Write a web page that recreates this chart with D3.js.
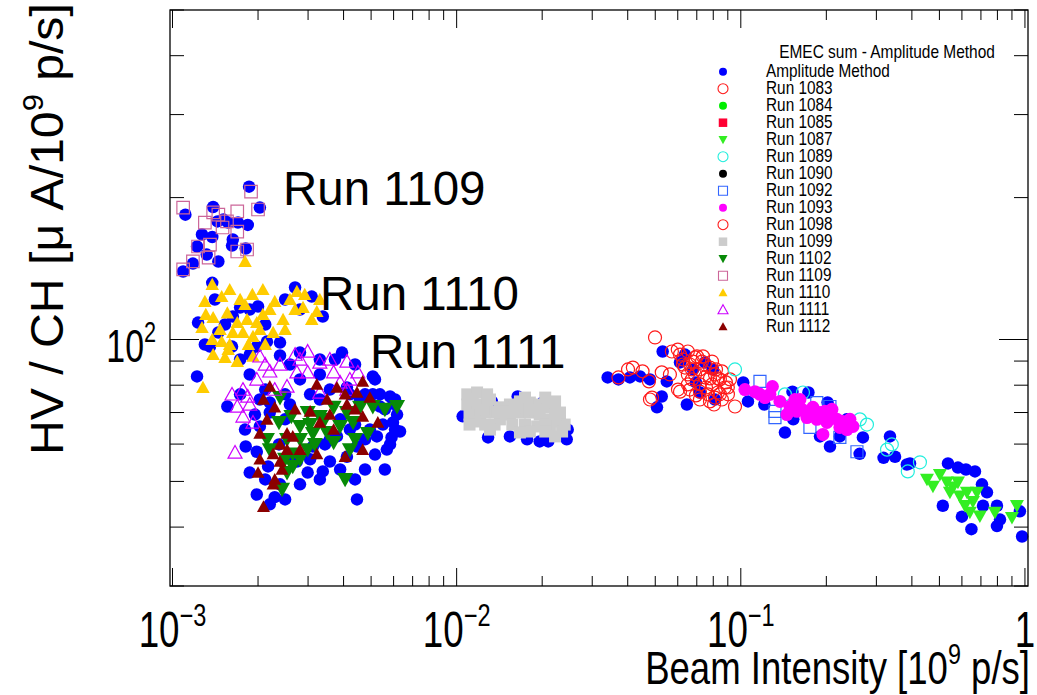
<!DOCTYPE html>
<html><head><meta charset="utf-8">
<script src="https://cdn.jsdelivr.net/npm/d3@7"></script>
<style>body{margin:0;background:#fff;} svg{display:block;}</style>
</head><body>
<svg id="chart" width="1037" height="695"></svg>
<script>
// ---------------- data ----------------
const xDomain = [0.00098, 1.025];
const yDomain = [30, 500];
const xMajorTicks = [1e-3, 1e-2, 1e-1, 1];
const xTickLabels = [["10","−3"],["10","−2"],["10","−1"],["1",""]];
const yMajorTicks = [100];
const yTickLabels = [["10","2"]];
const yMinorTicks = [30,40,50,60,70,80,90,200,300,400,500];
const legendHeader = "EMEC sum - Amplitude Method";
const legendLabels = ["Amplitude Method","Run 1083","Run 1084","Run 1085","Run 1087","Run 1089","Run 1090","Run 1092","Run 1093","Run 1098","Run 1099","Run 1102","Run 1109","Run 1110","Run 1111","Run 1112"];
const annotations = ["Run 1109","Run 1110","Run 1111"];

const amplitudeMethod = [
 [1.86e-3,211],[1.11e-3,184],[1.39e-3,191],[1.57e-3,177],[1.70e-3,177],[1.84e-3,175],[2.03e-3,190.5],[1.27e-3,167],[1.38e-3,165],[1.63e-3,163],[1.22e-3,157.5],[1.32e-3,151.4],[1.45e-3,146.4],[1.18e-3,144.9],[1.09e-3,139.4],[1.81e-3,156],[1.62e-3,158.2],[1.51e-3,179.6],[1.44e-3,178],
 [1.38e-3,131.9],[1.23e-3,108.6],[1.73e-3,116.9],[2.00e-3,117.5],[2.70e-3,128.9],[3.09e-3,123.3],[3.38e-3,111.9],[2.39e-3,98.5],[1.63e-3,111.9],[1.45e-3,103.5],[1.62e-3,96.6],[1.73e-3,90.7],[1.22e-3,83.5],[2.15e-3,99.0],[1.98e-3,96.6],[1.355e-3,96.6],
 [1.41e-3,121.6],[1.53e-3,107.6],[1.87e-3,115.8],[2.12e-3,107.6],[1.30e-3,97.6],[1.87e-3,92.9],[2.49e-3,121.6],[2.81e-3,115.8],
 [2.81e-3,93.8],[3.95e-3,93.8],[5.16e-3,82.3],[2.03e-3,74.6],[2.20e-3,73.5],[1.56e-3,72.1],[2.39e-3,92.5],[2.59e-3,88.5],[3.30e-3,90.7],[4.39e-3,88.5],
 [3.30e-3,84.3],[3.73e-3,90.7],[4.76e-3,76.5],[1.87e-3,84.3],[1.73e-3,76.5],
 [1.87e-3,52.2],[1.98e-3,46.9],[2.29e-3,46.3],[2.81e-3,49.3],[3.38e-3,52.5],[4.46e-3,45.8],[5.68e-3,58.4],[5.97e-3,66.7],[5.37e-3,72.1],[5.83e-3,75.7],[5.07e-3,76.5],[4.57e-3,74.6],[4.46e-3,59.3],[3.79e-3,62.3],[3.12e-3,59.3],[2.37e-3,59.9],[2.74e-3,55.1],[2.99e-3,52.2],[1.81e-3,59.3],[1.98e-3,57.8],[2.03e-3,65.4],[2.20e-3,70.0],[4.11e-3,56.4],[5.24e-3,62.3],[6.17e-3,69.3],[5.07e-3,83.5],[4.11e-3,79.1],[3.58e-3,78.3],[6.32e-3,63.8],[5.59e-3,53.0],[4.76e-3,53.0],[2.39e-3,49.3],[2.17e-3,53.8],[3.89e-3,67.7],[3.30e-3,74.6],[2.59e-3,72.8],[2.81e-3,82.3],[3.58e-3,61.4],[4.39e-3,66.0],[5.9e-3,62.0],[5.5e-3,66.0],[6.0e-3,73.0],
 [2.12e-3,78.3],[2.49e-3,76.5],[3.05e-3,76.5],[4.21e-3,76.5],[5.59e-3,71.1],[6.07e-3,64.4],[5.83e-3,59.9],[5.16e-3,57.0],[4.76e-3,61.4],[4.21e-3,64.4],[3.44e-3,59.9],[3.05e-3,55.7],[3.58e-3,55.1],[2.59e-3,57.0],[2.12e-3,50.5],[2.49e-3,45.8],[2.20e-3,44.7],[3.89e-3,53.0],[4.39e-3,50.5],[3.30e-3,50.5],[1.80e-3,64.4],[1.95e-3,69.3],[2.49e-3,67.7],[6.07e-3,74.6],[5.37e-3,76.5],[4.95e-3,64.4],
 [1.29e-2,62.0],[1.54e-2,62.3],[1.77e-2,61.4],[1.96e-2,60.8],[2.10e-2,60.8],[2.44e-2,61.4],[2.46e-2,64.4],[2.01e-2,73.5],[1.64e-2,75.7],[1.33e-2,73.9],[1.05e-2,68.7],
 [3.71e-2,82.3],[4.07e-2,83.1],[5.31e-2,94.3],[6.36e-2,92.9],[7.48e-2,89.4],[5.49e-2,81.5],[5.27e-2,75.7],[5.07e-2,71.8],[6.46e-2,72.8],[7.18e-2,77.2],[8.11e-2,74.6],[0.102,81.1],[7.98e-2,86.4],[6.79e-2,86.4],[6.11e-2,89.4],[4.42e-2,83.5],[4.79e-2,82.3],[3.40e-2,83.1],[6.95e-2,81.1],
 [0.106,73.9],[0.121,72.8],[0.143,63.5],[0.153,67.7],[0.152,77.5],[0.173,77.2],[0.202,73.5],[0.236,67.7],[0.269,62.0],[0.262,57.2],[0.206,59.3],[0.190,62.3],[0.223,62.3],[0.335,62.3],[0.349,56.4],[0.318,56.1],[0.394,54.6],
 [0.536,54.6],[0.581,53.5],[0.620,53.0],[0.667,52.5],[0.514,44.4],[0.706,49.3],[0.735,47.4],[0.600,42.1],[0.648,39.6],[0.797,40.2],[0.817,41.5],[0.960,43.2],[0.977,38.2],[0.712,44.4],[0.797,44.4],[0.384,54.3]
];
const run1083 = [
 [4.99e-2,101.0],[5.72e-2,94.3],[5.27e-2,85.2],[6.01e-2,78.3],[7.01e-2,92.1],[6.11e-2,92.9],[6.51e-2,94.3],[6.90e-2,91.6],[7.30e-2,89.8],[6.62e-2,88.5],[7.18e-2,86.4],[7.79e-2,87.2],[8.11e-2,84.3],[7.48e-2,83.1],[6.90e-2,84.3],[6.36e-2,87.2],[8.44e-2,82.3],[8.79e-2,79.1],[7.92e-2,80.3],[7.18e-2,80.3],[8.31e-2,77.2],[9.01e-2,76.5],[7.66e-2,76.5],[6.73e-2,82.3],[9.16e-2,82.3],[8.58e-2,74.6],[7.79e-2,73.9],[9.54e-2,72.1],[6.11e-2,77.5],[5.63e-2,84.3],
 [6.26e-2,90.7],[6.79e-2,89.8],[7.48e-2,88.5],[8.18e-2,86.4],[8.58e-2,85.6],[6.51e-2,84.3],[7.79e-2,82.7],[7.18e-2,77.5],[8.11e-2,75.3],[9.0e-2,79.1],[6.62e-2,78.3],[6.00e-2,95.2],
 [6.26e-2,88.5],[6.73e-2,86.4],[7.36e-2,92.1],[7.92e-2,89.8],[8.31e-2,82.7],[7.54e-2,79.1],[6.95e-2,76.1],[8.44e-2,76.5],[8.86e-2,81.1],[6.51e-2,80.3],[8.05e-2,72.8],[7.18e-2,74.6]
];
const run1084 = [];
const run1085 = [];
const run1087 = [
 [0.452,50.5],[0.502,51.7],[0.4745,48.8],[0.531,49.8],[0.558,48.6],[0.581,49.8],[0.5445,47.4],[0.590,46.5],[0.625,47.4],[0.6775,47.4],[0.615,44.4],[0.640,43.0],[0.694,42.2],[0.784,43.0],[0.900,41.9],[0.937,44.4],[0.656,45.3]
];
const run1089 = [
 [9.54e-2,86.4],[0.143,76.5],[0.1655,77.2],[0.2625,67.7],[0.278,66.0],[0.340,59.9],[0.387,52.5],[0.427,54.9],[0.327,58.4]
];
const run1090 = [];
const run1092 = [
 [0.1168,81.5],[0.1319,68.3],[0.1751,65.1],[0.2059,72.1],[0.2563,57.8],[0.2232,62.0],[0.1851,73.5],[0.1319,70.4]
];
const run1093 = [
 [0.1034,78.3],[0.1168,76.5],[0.1292,79.5],[0.1373,73.9],[0.1489,72.1],[0.1641,71.1],[0.1453,69.3],[0.1794,71.8],[0.1898,70.0],[0.2093,71.1],[0.2180,67.7],[0.2010,66.7],[0.2364,64.4],[0.2481,65.4],[0.1852,67.7],[0.1945,62.9],[0.1709,68.3],[0.2288,67.0],[0.1216,75.3],[0.155,74.6],[0.206,68.3],
 [0.1615,74.6],[0.1780,69.3],[0.1977,70.4],[0.2232,65.1],[0.2421,67.7],[0.1576,70.4],[0.1266,76.5],[0.1121,77.5]
];
const run1098 = [
 [3.71e-2,83.1],[4.01e-2,86.4],[4.17e-2,87.2],[4.51e-2,85.6],[4.75e-2,81.5],[4.87e-2,75.3],[4.79e-2,74.6]
];
const run1099 = [
 [1.09e-2,76.5],[1.18e-2,77.2],[1.28e-2,76.5],[1.09e-2,72.8],[1.18e-2,72.8],[1.28e-2,72.8],[1.11e-2,69.3],[1.21e-2,69.3],[1.31e-2,70.0],[1.26e-2,66.0],[1.16e-2,67.0],[1.42e-2,71.8],[1.54e-2,72.8],[1.67e-2,73.9],[1.81e-2,73.5],[1.96e-2,72.8],[2.13e-2,71.8],[2.31e-2,70.0],[1.54e-2,69.3],[1.67e-2,70.0],[1.81e-2,70.0],[1.96e-2,69.3],[2.13e-2,67.7],[2.31e-2,67.0],[1.57e-2,66.0],[1.74e-2,66.0],[1.92e-2,65.4],[2.13e-2,64.4],[2.35e-2,63.8],[1.81e-2,63.8],[1.67e-2,63.5],[1.42e-2,67.7],[1.36e-2,66.0],[2.40e-2,66.0],[2.05e-2,66.0],[1.39e-2,70.4],[2.05e-2,75.3],[2.22e-2,73.9],[1.74e-2,75.3],
 [1.14e-2,74.6],[1.24e-2,71.1],[1.31e-2,74.6],[1.48e-2,70.4],[1.60e-2,71.8],[1.89e-2,71.1],[2.22e-2,69.3],[2.05e-2,63.8],[2.22e-2,62.3],[1.11e-2,66.0],[1.31e-2,64.4]
];
const run1102 = [
 [2.39e-3,75.3],[2.62e-3,68.7],[2.99e-3,70.0],[2.37e-3,66.7],[2.81e-3,65.4],[3.30e-3,68.7],[3.69e-3,71.8],[4.11e-3,70.0],[4.57e-3,71.8],[5.07e-3,72.1],[6.17e-3,72.1],[2.15e-3,61.4],[2.53e-3,61.4],[2.81e-3,61.4],[3.12e-3,63.2],[3.50e-3,63.5],[3.89e-3,65.4],[4.32e-3,66.7],[4.87e-3,63.2],[2.65e-3,57.2],[2.99e-3,58.4],[3.69e-3,60.5],[4.21e-3,58.4],[2.20e-3,58.4],[2.65e-3,53.8],[2.53e-3,52.2],[2.81e-3,55.7],[4.05e-3,50.5],[2.43e-3,48.1],
 [3.05e-3,66.0],[3.44e-3,67.7],[2.49e-3,55.7],[3.17e-3,59.9],[4.39e-3,61.4],[5.59e-3,71.1]
];
const run1109 = [
 [1.09e-3,190.5],[1.89e-3,206],[1.39e-3,186],[1.30e-3,177],[1.69e-3,187],[2.00e-3,188.7],[1.555e-3,178],[1.69e-3,169.4],[1.23e-3,157.5],[1.355e-3,159],[1.69e-3,153.7],[1.83e-3,155.2],[1.18e-3,146.4],[1.34e-3,149.2],[1.09e-3,140.8],[1.50e-3,172.8],[1.45e-3,184]
];
const run1110 = [
 [1.38e-3,130.8],[1.49e-3,123.3],[1.30e-3,120.4],[1.91e-3,124.6],[2.08e-3,127.6],[2.29e-3,120.4],[2.74e-3,126.4],[2.88e-3,116.9],[3.22e-3,114.6],[1.39e-3,111.3],[1.56e-3,113.8],[1.27e-3,106.0],[1.69e-3,108.6],[1.83e-3,110.3],[1.98e-3,108.6],[2.08e-3,113.0],[2.26e-3,103.5],[1.38e-3,100.0],[1.49e-3,99.0],[1.63e-3,103.5],[1.77e-3,103.5],[1.92e-3,101.5],[1.39e-3,92.9],[1.53e-3,91.6],[1.69e-3,89.8],[1.92e-3,92.1],[1.28e-3,79.1],[1.80e-3,146.4],[2.45e-3,110.3],[3.09e-3,110.3],[1.59e-3,97.6],[1.85e-3,97.6],[2.03e-3,105.0],[2.59e-3,121.6],[2.92e-3,124.6],[1.73e-3,121.6],[1.47e-3,105.0],
 [1.59e-3,127.6],[1.80e-3,118.6],[2.20e-3,115.8],[2.49e-3,105.0],[1.31e-3,113.0],[1.57e-3,95.2],[2.12e-3,97.6],[2.70e-3,115.8],[3.30e-3,121.6]
];
const run1111 = [
 [2.99e-3,94.3],[2.03e-3,92.1],[2.81e-3,90.7],[3.30e-3,89.4],[4.11e-3,89.8],[2.99e-3,85.2],[3.69e-3,85.2],[2.53e-3,79.5],[1.77e-3,78.3],[1.98e-3,82.3],[1.69e-3,72.1],[1.84e-3,75.7],[1.77e-3,68.7],[1.92e-3,66.7],[3.30e-3,77.2],[3.89e-3,81.1],[4.49e-3,85.2],[1.66e-3,57.6],[4.11e-3,78.3],[2.74e-3,85.2],[2.20e-3,85.6],[2.39e-3,88.5],[1.62e-3,76.5],
 [2.12e-3,88.5],[2.70e-3,92.9],[3.58e-3,90.7],[4.21e-3,82.3],[1.87e-3,72.8],[2.29e-3,78.3]
];
const run1112 = [
 [2.20e-3,79.5],[3.22e-3,80.3],[3.79e-3,79.1],[4.67e-3,81.5],[2.09e-3,74.6],[2.29e-3,71.8],[3.50e-3,74.6],[4.11e-3,72.8],[4.46e-3,77.2],[4.95e-3,75.3],[5.28e-3,66.7],[2.15e-3,67.7],[2.53e-3,63.2],[2.03e-3,63.2],[3.05e-3,70.4],[3.69e-3,64.4],[4.67e-3,68.7],[2.03e-3,55.7],[2.26e-3,57.2],[2.53e-3,58.4],[2.39e-3,55.1],[3.22e-3,57.2],[4.05e-3,56.4],[4.67e-3,58.4],[2.00e-3,52.2],[2.29e-3,50.5],[2.26e-3,49.3],[2.43e-3,53.0],[2.09e-3,44.2],[2.65e-3,62.3],[3.30e-3,66.7],[4.39e-3,71.1],
 [2.70e-3,71.1],[4.05e-3,76.5],[2.81e-3,58.4],[3.58e-3,69.3],[2.39e-3,59.9]
];

// -------- styles (not data) --------
const FONT = "'Liberation Sans', Arial, Helvetica, sans-serif";
const seriesDefs = [
 {label:"Amplitude Method", data:amplitudeMethod, shape:"circle", fill:"#0000ff", stroke:null, size:12.5, lsize:8},
 {label:"Run 1083", data:run1083, shape:"circle", fill:"none", stroke:"#ff1a1a", size:13, lsize:10},
 {label:"Run 1084", data:run1084, shape:"circle", fill:"#00ee00", stroke:null, size:12, lsize:8},
 {label:"Run 1085", data:run1085, shape:"square", fill:"#ff0033", stroke:null, size:11, lsize:8.5},
 {label:"Run 1087", data:run1087, shape:"triDown", fill:"#33ee22", stroke:null, size:14, lsize:9},
 {label:"Run 1089", data:run1089, shape:"circle", fill:"none", stroke:"#22eedd", size:13, lsize:10},
 {label:"Run 1090", data:run1090, shape:"circle", fill:"#000000", stroke:null, size:12, lsize:8},
 {label:"Run 1092", data:run1092, shape:"square", fill:"none", stroke:"#3366ff", size:12, lsize:9},
 {label:"Run 1093", data:run1093, shape:"circle", fill:"#ff00ff", stroke:null, size:13, lsize:8},
 {label:"Run 1098", data:run1098, shape:"circle", fill:"none", stroke:"#ff1a1a", size:13, lsize:10},
 {label:"Run 1099", data:run1099, shape:"square", fill:"#cccccc", stroke:null, size:12, lsize:8.5},
 {label:"Run 1102", data:run1102, shape:"triDown", fill:"#078a07", stroke:null, size:16, lsize:9},
 {label:"Run 1109", data:run1109, shape:"square", fill:"none", stroke:"#cc6699", size:12.5, lsize:9},
 {label:"Run 1110", data:run1110, shape:"triUp", fill:"#ffcc00", stroke:null, size:13.5, lsize:9},
 {label:"Run 1111", data:run1111, shape:"triUp", fill:"none", stroke:"#cc00ff", size:14, lsize:10},
 {label:"Run 1112", data:run1112, shape:"triUp", fill:"#8b0000", stroke:null, size:13, lsize:9}
];

function markerPath(shape, s){
  const h = s/2;
  if (shape === "circle") return d3.symbol(d3.symbolCircle, Math.PI*h*h)();
  if (shape === "square") return `M${-h},${-h}h${s}v${s}h${-s}Z`;
  const th = s*0.9;
  if (shape === "triUp") return `M0,${-th*0.55}L${h},${th*0.45}L${-h},${th*0.45}Z`;
  if (shape === "triDown") return `M0,${th*0.55}L${h},${-th*0.45}L${-h},${-th*0.45}Z`;
}

const svg = d3.select("#chart");
svg.append("rect").attr("width",1037).attr("height",695).attr("fill","#fff");
const x = d3.scaleLog().domain(xDomain).range([170, 1028]);
const y = d3.scaleLog().domain(yDomain).range([586, 10]);
const X0 = x(xDomain[0]), X1 = x(xDomain[1]), Y0 = y(yDomain[0]), Y1 = y(yDomain[1]);

// points
const plot = svg.append("g");
seriesDefs.forEach(s => {
  plot.append("g").selectAll("path").data(s.data).join("path")
    .attr("transform", d => `translate(${x(d[0])},${y(d[1])})`)
    .attr("d", markerPath(s.shape, s.size))
    .attr("fill", s.fill)
    .attr("stroke", s.stroke || "none")
    .attr("stroke-width", s.stroke ? 1.2 : 0);
});

// frame and ticks
const axes = svg.append("g").attr("stroke","#000").attr("fill","none");
axes.append("rect").attr("x",X0).attr("y",Y1).attr("width",X1-X0).attr("height",Y0-Y1).attr("stroke-width",1.3);
const xTicksAll = [];
for (let d = -3; d <= 0; d++) for (let k = 1; k <= 9; k++) { const v = k*Math.pow(10,d); if (v >= xDomain[0] && v <= xDomain[1]) xTicksAll.push({v, major:k===1}); }
xTicksAll.forEach(t => {
  const len = t.major ? 18 : 10;
  axes.append("line").attr("x1",x(t.v)).attr("x2",x(t.v)).attr("y1",Y0).attr("y2",Y0-len).attr("stroke-width",1);
  axes.append("line").attr("x1",x(t.v)).attr("x2",x(t.v)).attr("y1",Y1).attr("y2",Y1+len).attr("stroke-width",1);
});
const yTicksAll = yMinorTicks.map(v=>({v,major:false})).concat(yMajorTicks.map(v=>({v,major:true})));
yTicksAll.forEach(t => {
  const len = t.major ? 29 : 14;
  axes.append("line").attr("x1",X0).attr("x2",X0+len).attr("y1",y(t.v)).attr("y2",y(t.v)).attr("stroke-width",1);
  axes.append("line").attr("x1",X1).attr("x2",X1-len).attr("y1",y(t.v)).attr("y2",y(t.v)).attr("stroke-width",1);
});

// text helper: parts = [[text, isSup], ...]
function rootText(parent, o){
  const outer = parent.append("g").attr("transform", `translate(${o.x},${o.y})` + (o.rotate ? ` rotate(${o.rotate})` : ""));
  const inner = outer.append("g");
  const t = inner.append("text").attr("text-anchor", o.anchor || "start")
    .attr("font-family", FONT).attr("font-size", o.size).attr("fill", "#000");
  let sup = false;
  o.parts.forEach(([txt, isSup]) => {
    if (!txt) return;
    const ts = t.append("tspan").text(txt);
    if (isSup && !sup) { ts.attr("dy", -o.size*0.42).attr("font-size", o.size*0.64); sup = true; }
    else if (isSup) { ts.attr("font-size", o.size*0.64); }
    else if (!isSup && sup) { ts.attr("dy", o.size*0.42); sup = false; }
  });
  if (o.width) { const w = t.node().getBBox().width; inner.attr("transform", `scale(${o.width/w},1)`); }
  else if (o.sx) inner.attr("transform", `scale(${o.sx},1)`);
  return outer;
}

// tick labels
xMajorTicks.forEach((v,i) => rootText(svg, {x:x(v), y:647, anchor:"middle", size:49, sx:0.75, parts:[[xTickLabels[i][0],false],[xTickLabels[i][1],true]]}));
yMajorTicks.forEach((v,i) => rootText(svg, {x:156, y:y(v)+22, anchor:"end", size:47, sx:0.72, parts:[[yTickLabels[i][0],false],[yTickLabels[i][1],true]]}));

// axis titles
rootText(svg, {x:1030, y:684, anchor:"end", size:47, width:385, parts:[["Beam Intensity [10",false],["9",true],[" p/s]",false]]});
rootText(svg, {x:63, y:455, anchor:"start", size:47, width:452, rotate:-90, parts:[["HV / CH [μ A/10",false],["9",true],[" p/s]",false]]});

// annotations
const annPos = [[283,205],[320,310],[370,368]];
annotations.forEach((a,i) => svg.append("text").attr("x",annPos[i][0]).attr("y",annPos[i][1])
  .attr("font-family",FONT).attr("font-size",47.5).attr("fill","#000").text(a));

// legend
const leg = svg.append("g");
rootText(leg, {x:887, y:58, anchor:"middle", size:18, width:216, parts:[[legendHeader,false]]});
legendLabels.forEach((lab,i) => {
  const s = seriesDefs.find(d => d.label === lab);
  const cy = 71.7 + 17*i;
  leg.append("path").attr("transform",`translate(723,${cy})`).attr("d", markerPath(s.shape, s.lsize))
    .attr("fill", s.fill).attr("stroke", s.stroke || "none").attr("stroke-width", s.stroke ? 1.1 : 0);
  rootText(leg, {x:766, y:cy+5, anchor:"start", size:18.5, sx:0.83, parts:[[lab,false]]});
});
</script>
</body></html>
